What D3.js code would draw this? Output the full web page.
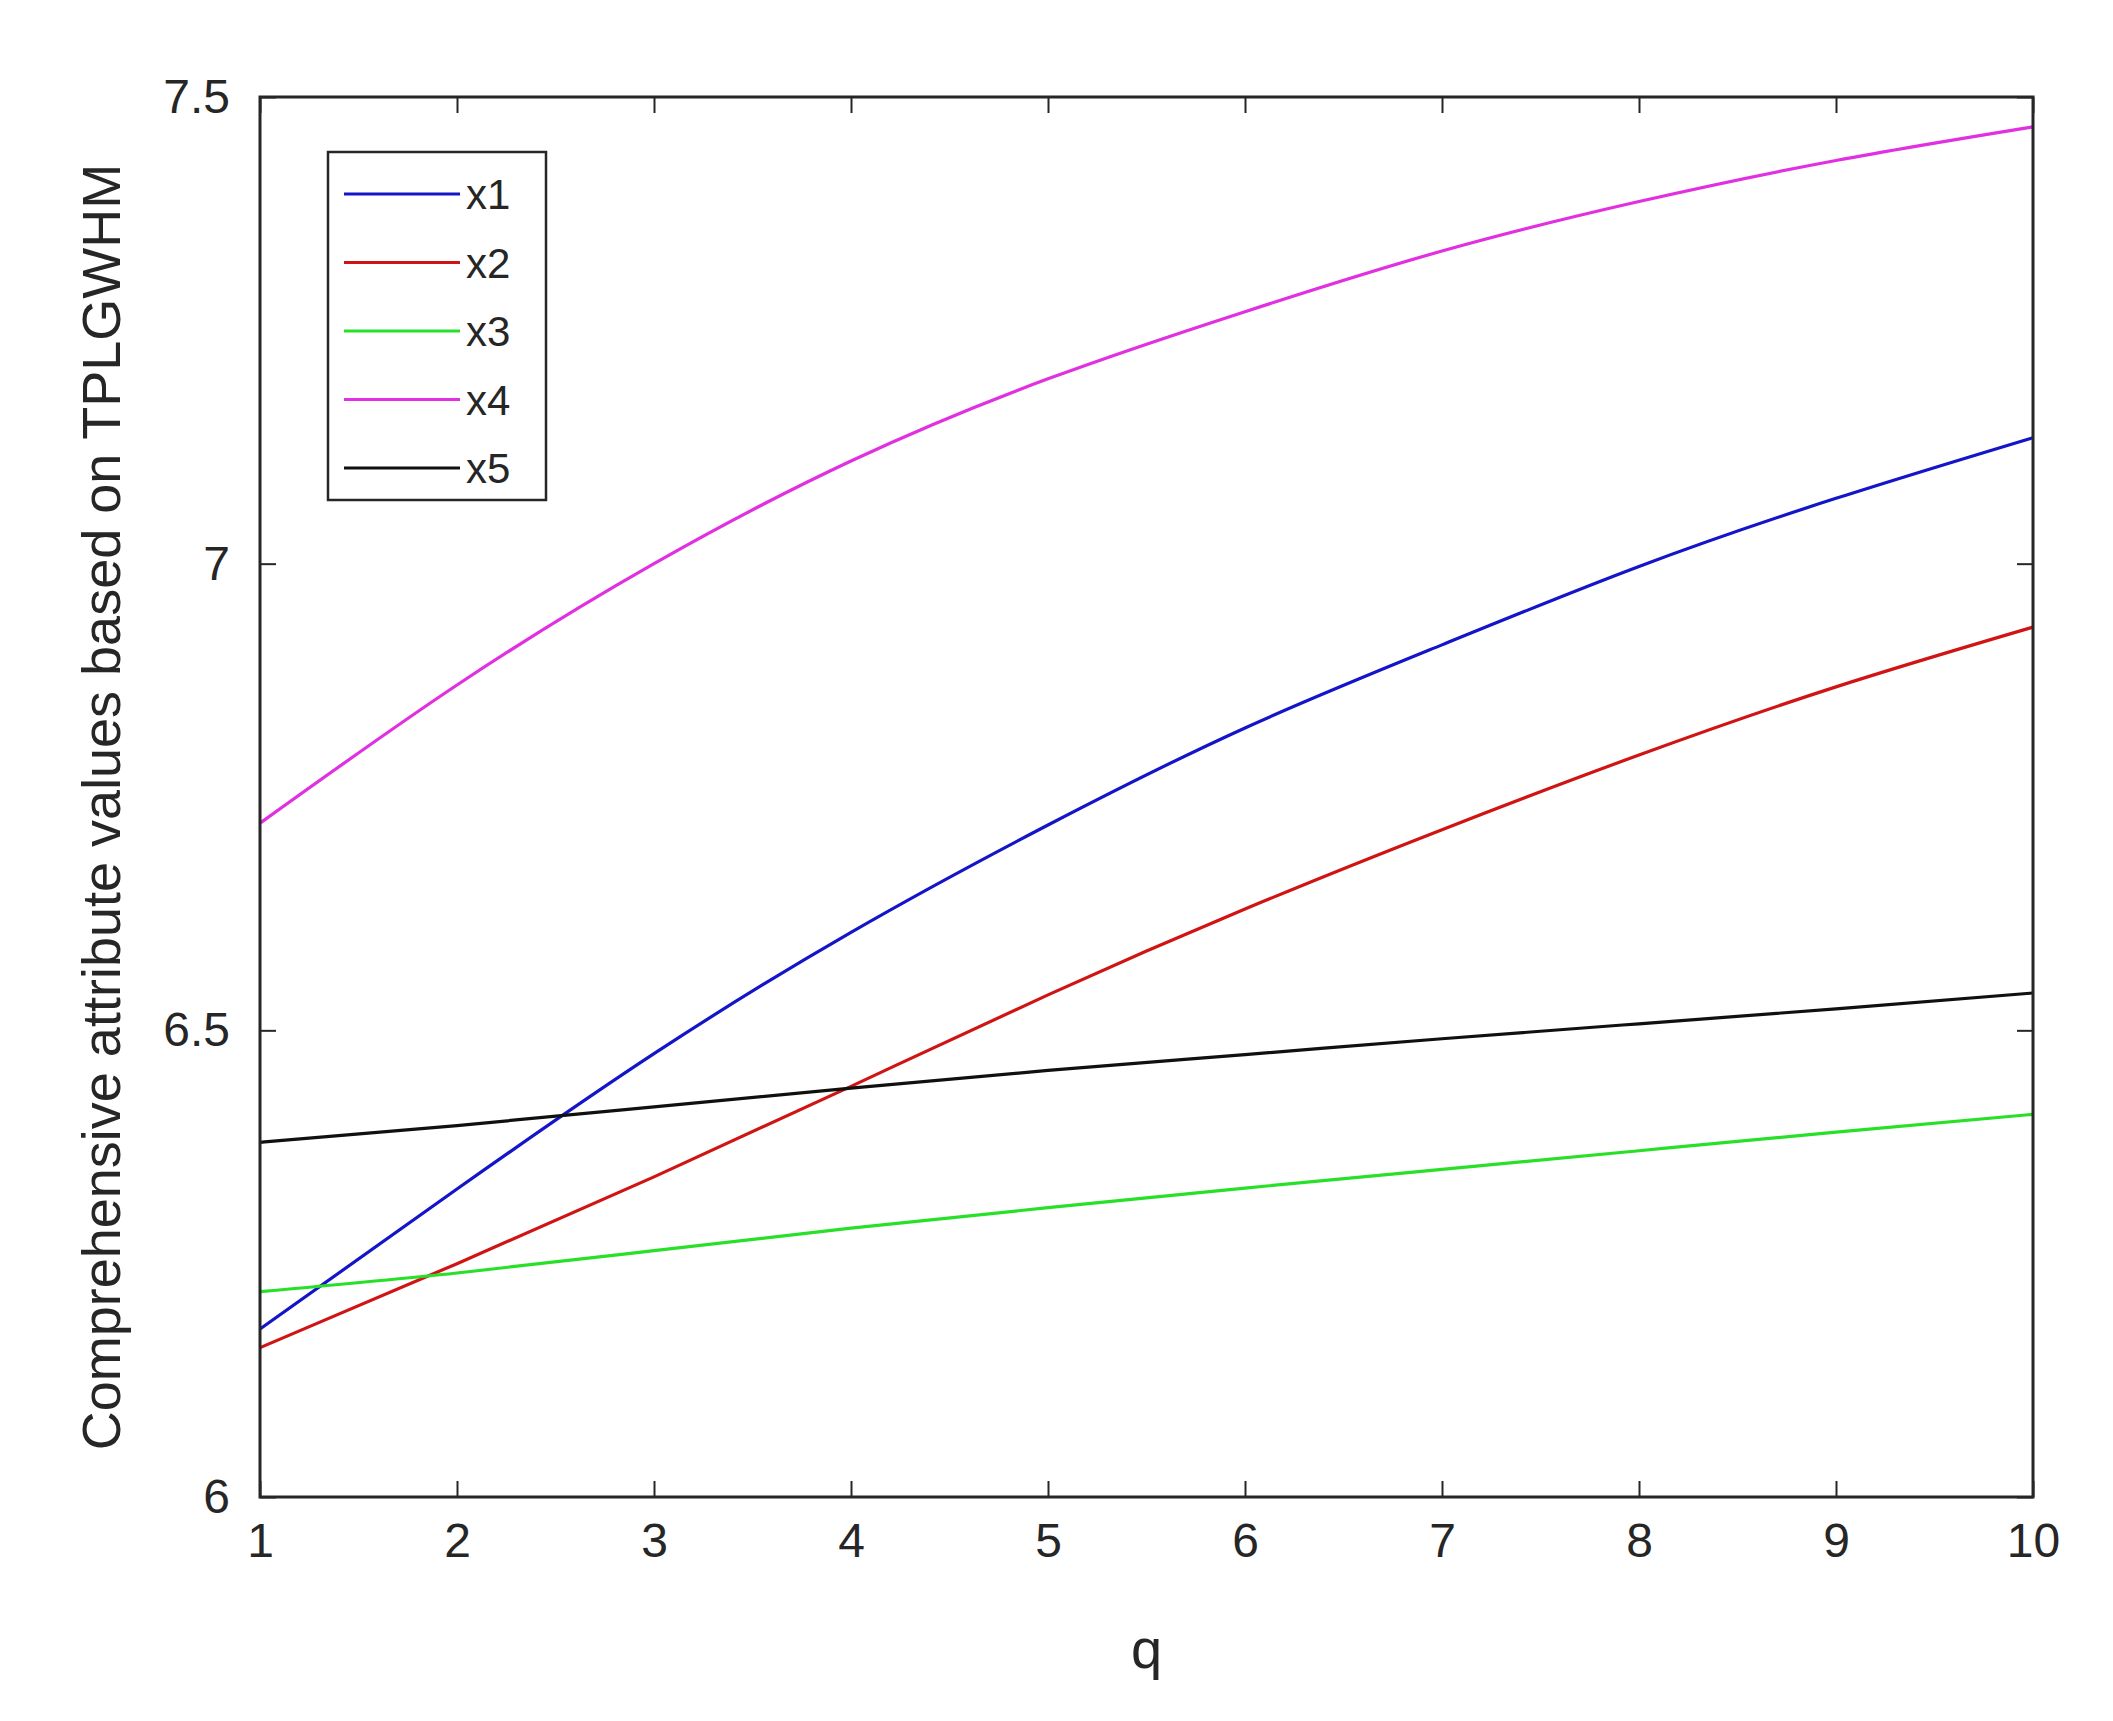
<!DOCTYPE html>
<html><head><meta charset="utf-8">
<script src="https://cdn.jsdelivr.net/npm/d3@7"></script>
<style>body{margin:0;background:#fff}text{font-family:"Liberation Sans",Arial,sans-serif;fill:#262626}</style>
</head><body>
<svg id="chart" width="2113" height="1721"></svg>
<script>
const qValues = [1, 2, 3, 4, 5, 6, 7, 8, 9, 10];
const x1 = [6.18, 6.33, 6.475, 6.605, 6.72, 6.824, 6.913, 6.997, 7.07, 7.135];
const x2 = [6.16, 6.25, 6.343, 6.44, 6.538, 6.63, 6.715, 6.795, 6.868, 6.932];
const x3 = [6.22, 6.24, 6.264, 6.288, 6.31, 6.331, 6.351, 6.371, 6.391, 6.41];
const x4 = [6.722, 6.87, 7.0, 7.11, 7.198, 7.27, 7.335, 7.388, 7.432, 7.468];
const x5 = [6.38, 6.398, 6.418, 6.438, 6.457, 6.474, 6.491, 6.507, 6.523, 6.54];
const seriesNames = ["x1", "x2", "x3", "x4", "x5"];
const seriesColors = ["#1414c8", "#d01414", "#28e028", "#e030e0", "#101010"];
const yTicks = [6, 6.5, 7, 7.5];

const series = [x1, x2, x3, x4, x5];
const svg = d3.select("#chart");
const margin = {top: 97, right: 80, bottom: 224, left: 260};
const width = 2113 - margin.left - margin.right;
const height = 1721 - margin.top - margin.bottom;

const x = d3.scaleLinear().domain([1, 10]).range([0, width]);
const y = d3.scaleLinear().domain([6, 7.5]).range([height, 0]);

const g = svg.append("g")
  .attr("transform", "translate(" + margin.left + "," + margin.top + ")");

const styleAxis = (a) => {
  a.select(".domain").remove();
  a.selectAll("line").attr("stroke", "#262626").attr("stroke-width", 2);
  a.selectAll("text").style("font-size", "48px").attr("fill", "#262626");
};

g.append("g").attr("transform", "translate(0," + height + ")")
  .call(d3.axisBottom(x).tickValues(qValues).tickSize(-16).tickPadding(26).tickFormat(d3.format("d")))
  .call(styleAxis);
g.append("g").call(d3.axisTop(x).tickValues(qValues).tickSize(-16).tickFormat(""))
  .call(styleAxis);
g.append("g")
  .call(d3.axisLeft(y).tickValues(yTicks).tickSize(-16).tickPadding(30).tickFormat(d => d))
  .call(styleAxis);
g.append("g").attr("transform", "translate(" + width + ",0)")
  .call(d3.axisRight(y).tickValues(yTicks).tickSize(-16).tickFormat(""))
  .call(styleAxis);

const line = d3.line()
  .x((d, i) => x(qValues[i]))
  .y(d => y(d))
  .curve(d3.curveNatural);

series.forEach((s, k) => {
  g.append("path").datum(s)
    .attr("fill", "none")
    .attr("stroke", seriesColors[k])
    .attr("stroke-width", 3.2)
    .attr("d", line);
});

g.append("rect").attr("width", width).attr("height", height)
  .attr("fill", "none").attr("stroke", "#262626").attr("stroke-width", 3);

// legend
const lg = g.append("g").attr("transform", "translate(68,55)");
lg.append("rect").attr("width", 218).attr("height", 348)
  .attr("fill", "#fff").attr("stroke", "#262626").attr("stroke-width", 2.5);
seriesNames.forEach((n, k) => {
  const yy = 42 + k * 68.5;
  lg.append("line").attr("x1", 16).attr("x2", 132).attr("y1", yy).attr("y2", yy)
    .attr("stroke", seriesColors[k]).attr("stroke-width", 3.2);
  lg.append("text").attr("x", 138).attr("y", yy + 15).style("font-size", "42px").text(n);
});

svg.append("text")
  .attr("x", margin.left + width / 2).attr("y", 1668)
  .attr("text-anchor", "middle").style("font-size", "56px").text("q");
svg.append("text")
  .attr("transform", "translate(120," + (margin.top + height / 2 + 10) + ") rotate(-90)")
  .attr("text-anchor", "middle").style("font-size", "54px")
  .text("Comprehensive attribute values based on TPLGWHM");
</script>
</body></html>
